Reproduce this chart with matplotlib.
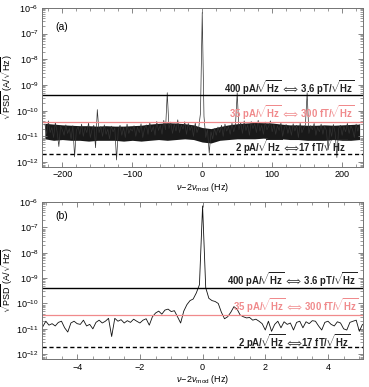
import numpy as np
import matplotlib
matplotlib.use("Agg")
import matplotlib.pyplot as plt
from matplotlib.ticker import LogLocator, MultipleLocator, NullFormatter


# Data, amplitudes in pA/sqrt(Hz)

# panel (a): wide span, 2.5 Hz bins from -225 to 225 Hz
wide_step = 2.5
wide_psd_pA = [
    30, 12, 40, 14, 22, 9, 35, 15, 4, 25,
    18, 11, 28, 13, 20, 8, 26, 1.6, 17, 24,
    12, 30, 10, 22, 14, 33, 9, 19, 27, 3.6,
    110, 14, 24, 10, 28, 12, 19, 8, 25, 15,
    21, 1.2, 18, 27, 11, 22, 9, 30, 13, 20,
    16, 26, 10, 23, 14, 31, 9, 20, 28, 12,
    35, 15, 24, 11, 38, 17, 27, 12, 42, 18,
    500, 20, 36, 13, 30, 16, 44, 14, 28, 19,
    37, 12, 32, 17, 26, 10, 33, 14, 22, 80,
    6.6e5, 60, 9, 18, 2.2, 15, 8, 20, 11, 23,
    14, 27, 10, 30, 16, 24, 12, 33, 15, 26,
    500, 18, 35, 13, 40, 17, 28, 11, 38, 20,
    31, 14, 42, 16, 27, 12, 36, 18, 25, 40,
    15, 30, 12, 26, 17, 34, 10, 22, 29, 13,
    24, 11, 31, 16, 27, 9, 33, 14, 21, 28,
    500, 13, 26, 18, 32, 11, 23, 15, 30, 12,
    25, 17, 3, 22, 10, 29, 14, 1.5, 20, 27,
    11, 24, 15, 32, 13, 26, 18, 9, 30, 16,
    28,
]

# dense core of the noise band in panel (a), 12.5 Hz steps from -225 to 225 Hz
band_step = 12.5
band_lo_pA = [8, 7, 7.5, 7, 7, 6.5, 7, 7, 7, 6.5, 7, 6.5, 7, 7.5, 7, 7.5, 8, 7.5,
              6, 5.5, 7, 7.5, 8, 8, 8, 8.5, 8, 8, 7.5, 7.5, 7, 7, 7, 7.5, 7, 7, 7.5]
band_hi_pA = [32, 30, 28, 27, 26, 26, 25, 26, 25, 25, 26, 27, 30, 32, 34, 33, 31, 28,
              22, 20, 24, 28, 31, 33, 35, 34, 33, 30, 28, 28, 27, 27, 28, 27, 28, 29, 30]

# panel (b): zoom around the peak, 0.1 Hz bins from -5.1 to 5.1 Hz
zoom_step = 0.1
zoom_psd_pA = [
    12, 20, 14, 16, 13, 18, 20, 11, 7.5, 17,
    20, 16, 15, 22, 13, 15, 10, 18, 22, 17,
    20, 26, 5, 26, 20, 23, 17, 21, 18, 24,
    20, 17, 22, 25, 14, 30, 42, 50, 38, 55,
    60, 48, 52, 30, 17, 50, 90, 130, 150, 260,
    550, 7.0e5, 420, 160, 130, 120, 100, 45, 25, 30,
    45, 75, 60, 35, 30, 27, 28, 22, 24, 20,
    16, 9, 20, 8, 15, 20, 11, 19, 15, 17,
    9, 18, 20, 11, 19, 16, 21, 20, 13, 9,
    18, 20, 15, 13, 19, 17, 10, 9, 18, 20,
    22, 8, 15,
]

# reference levels
ref_levels = [4e-10, 3.5e-11, 2e-12]
ref_labels = [
    r"$\mathbf{400\ pA/}\!\sqrt{\mathbf{Hz}}\,\Longleftrightarrow\,\mathbf{3.6\ pT/}\!\sqrt{\mathbf{Hz}}$",
    r"$\mathbf{35\ pA/}\!\sqrt{\mathbf{Hz}}\,\Longleftrightarrow\,\mathbf{300\ fT/}\!\sqrt{\mathbf{Hz}}$",
    r"$\mathbf{2\ pA/}\!\sqrt{\mathbf{Hz}}\,\Longleftrightarrow\!\mathbf{17\ fT/}\!\sqrt{\mathbf{Hz}}$",
]


# Style

plt.rcParams["font.family"] = ["Liberation Sans", "DejaVu Sans"]
plt.rcParams["mathtext.fontset"] = "custom"
plt.rcParams["mathtext.rm"] = "Liberation Sans"
plt.rcParams["mathtext.it"] = "Liberation Sans:italic"
plt.rcParams["mathtext.bf"] = "Liberation Sans:bold"
plt.rcParams["font.size"] = 7

pink = "#f08a8c"
frame = "0.45"

wide_freq = -225 + wide_step * np.arange(len(wide_psd_pA))
band_freq = -225 + band_step * np.arange(len(band_lo_pA))
zoom_freq = -5.1 + zoom_step * np.arange(len(zoom_psd_pA))
wide_psd = np.array(wide_psd_pA) * 1e-12
zoom_psd = np.array(zoom_psd_pA) * 1e-12

fig = plt.figure(figsize=(3.69, 3.87), dpi=100)
ax_a = fig.add_axes([0.114, 0.5685, 0.870, 0.411])
ax_b = fig.add_axes([0.114, 0.072, 0.870, 0.406])

ax_a.fill_between(band_freq, np.array(band_lo_pA) * 1e-12, np.array(band_hi_pA) * 1e-12,
                  color="black", lw=0, alpha=0.9)

panels = [
    (ax_a, wide_freq, wide_psd, (-229, 230), 100, 20, "(a)", 0.882,
     [(0.975, 0.497), (0.975, 0.34), (0.951, 0.126)], 0.5, "0.2"),
    (ax_b, zoom_freq, zoom_psd, (-5.12, 5.12), 2, 0.5, "(b)", 0.908,
     [(0.985, 0.508), (0.985, 0.342), (0.96, 0.11)], 0.6, "#111111"),
]

for ax, f, psd, xlim, major, minor, tag, tag_y, text_pos, lw, lc in panels:
    ax.plot(f, psd, color=lc, lw=lw)

    ax.axhline(ref_levels[0], color="black", lw=1.0)
    ax.axhline(ref_levels[1], color=pink, lw=0.9)
    ax.axhline(ref_levels[2], color="black", lw=1.0, ls=(0, (3, 2)))

    colors = ["#222222", pink, "#222222"]
    for (tx, ty), lab, c in zip(text_pos, ref_labels, colors):
        ax.text(tx, ty, lab, transform=ax.transAxes, ha="right", va="center",
                color=c, fontsize=6.9)

    ax.text(0.04, tag_y, tag, transform=ax.transAxes, ha="left", va="center",
            fontsize=7.5)

    ax.set_yscale("log")
    ax.set_ylim(6.4e-13, 1e-6)
    ax.set_xlim(*xlim)
    ax.yaxis.set_major_locator(LogLocator(base=10, numticks=20))
    ax.yaxis.set_minor_locator(LogLocator(base=10, subs=np.arange(2, 10), numticks=20))
    ax.yaxis.set_minor_formatter(NullFormatter())
    ax.xaxis.set_major_locator(MultipleLocator(major))
    ax.xaxis.set_minor_locator(MultipleLocator(minor))

    ax.tick_params(which="both", direction="in", top=True, right=True,
                   color=frame, labelsize=6.5, pad=2.5)
    ax.tick_params(which="major", length=3.5, width=0.6)
    ax.tick_params(which="minor", length=2, width=0.5)
    for sp in ax.spines.values():
        sp.set_color(frame)
        sp.set_linewidth(0.7)

    ax.set_xlabel(r"$\nu\!-\!2\nu_{\mathrm{mod}}$ (Hz)", fontsize=6.5, labelpad=1)
    ax.set_ylabel(r"$\sqrt{\mathrm{PSD}}$ (A/$\sqrt{\mathrm{Hz}}$)", fontsize=6.5, labelpad=1)

fig.savefig("out.png", dpi=100)
